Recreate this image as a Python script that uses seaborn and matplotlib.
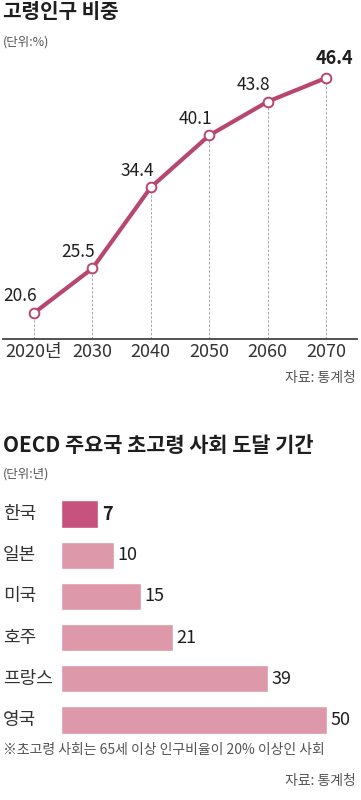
import matplotlib
matplotlib.use("Agg")
import matplotlib.pyplot as plt
import seaborn as sns
import pandas as pd

# data
years = [2020, 2030, 2040, 2050, 2060, 2070]
year_labels = ["2020년", "2030", "2040", "2050", "2060", "2070"]
elderly_share = [20.6, 25.5, 34.4, 40.1, 43.8, 46.4]

countries = ["한국", "일본", "미국", "호주", "프랑스", "영국"]
years_to_super = [7, 10, 15, 21, 39, 50]

LINE_C = "#b8476f"
KOREA_C = "#c6527d"
BAR_C = "#dd99aa"
TXT = "#1e1e1e"
GRAY = "#555555"

sns.set_style("white")
plt.rcParams["font.family"] = ["Noto Sans CJK KR", "DejaVu Sans"]

fig = plt.figure(figsize=(3.61, 8), dpi=100)

# ---- top: line chart ----
ax1 = fig.add_axes([3 / 361, 1 - 339 / 800, 354 / 361, 289 / 800])
line_df = pd.DataFrame({"year": years, "share": elderly_share})
ax1.vlines(line_df["year"], 17.75, line_df["share"], colors="#9a9a9a",
           linestyles=(0, (3, 2)), linewidth=0.6, zorder=1)
sns.lineplot(data=line_df, x="year", y="share", ax=ax1, color=LINE_C,
             linewidth=3, marker="o", markersize=7, markerfacecolor="white",
             markeredgecolor=LINE_C, markeredgewidth=1.4, zorder=3,
             solid_joinstyle="round", solid_capstyle="round")
ax1.set_xlim(2014.69, 2075.3)
ax1.set_ylim(17.75, 49.47)
for i, (x, y) in enumerate(zip(years, elderly_share)):
    if i == len(years) - 1:
        ax1.annotate(f"{y}", (x, y), xytext=(6, 7), textcoords="offset points",
                     ha="center", va="bottom", fontsize=13, fontweight="bold",
                     color=TXT)
    else:
        ax1.annotate(f"{y}", (x, y), xytext=(-10, 5.5), textcoords="offset points",
                     ha="center", va="bottom", fontsize=12.5, color=TXT)
ax1.set_xticks(years)
ax1.set_xticklabels(year_labels, fontsize=13, color="#333333")
ax1.set_yticks([])
ax1.set_xlabel("")
ax1.set_ylabel("")
ax1.tick_params(axis="x", length=0, pad=3)
for s in ["top", "right", "left"]:
    ax1.spines[s].set_visible(False)
ax1.spines["bottom"].set_color("#444444")
ax1.spines["bottom"].set_linewidth(1.3)
ax1.patch.set_alpha(0)

fig.text(3 / 361, 1 - 12 / 800, "고령인구 비중", fontsize=14.5, fontweight="bold",
         color=TXT, va="center", ha="left")
fig.text(3 / 361, 1 - 42 / 800, "(단위:%)", fontsize=9, color=GRAY,
         va="center", ha="left")
fig.text(356 / 361, 1 - 378 / 800, "자료: 통계청", fontsize=10, color=GRAY,
         va="center", ha="right")

# ---- bottom: bar chart ----
ax2 = fig.add_axes([61 / 361, 1 - 740.6 / 800, 300 / 361, 247.2 / 800])
bar_df = pd.DataFrame({"country": countries, "years": years_to_super})
palette = {c: (KOREA_C if c == "한국" else BAR_C) for c in countries}
sns.barplot(data=bar_df, x="years", y="country", hue="country", palette=palette,
            order=countries, width=0.66, legend=False, ax=ax2, saturation=1)
ax2.set_xlim(0, 56.4)
ax2.set_ylim(5.5, -0.5)
ax2.set_yticks([])
ax2.set_xticks([])
ax2.set_xlabel("")
ax2.set_ylabel("")
sns.despine(ax=ax2, left=True, bottom=True)
for i, (c, v) in enumerate(zip(countries, years_to_super)):
    ax2.annotate(f"{v}", (v, i), xytext=(2.5, 0), textcoords="offset points",
                 ha="left", va="center", fontsize=13, color=TXT,
                 fontweight="bold" if c == "한국" else "normal")
    ax2.text(-58 / 300, i, c, transform=ax2.get_yaxis_transform(),
             ha="left", va="center", fontsize=13, color="#333333")

fig.text(3 / 361, 1 - 445 / 800, "OECD 주요국 초고령 사회 도달 기간", fontsize=15,
         fontweight="bold", color=TXT, va="center", ha="left")
fig.text(3 / 361, 1 - 474 / 800, "(단위:년)", fontsize=9, color=GRAY,
         va="center", ha="left")
fig.text(3 / 361, 1 - 750 / 800, "※초고령 사회는 65세 이상 인구비율이 20% 이상인 사회",
         fontsize=10, color=GRAY, va="center", ha="left")
fig.text(356 / 361, 1 - 781 / 800, "자료: 통계청", fontsize=10, color=GRAY,
         va="center", ha="right")

fig.savefig("out.png", dpi=100, facecolor="white")
